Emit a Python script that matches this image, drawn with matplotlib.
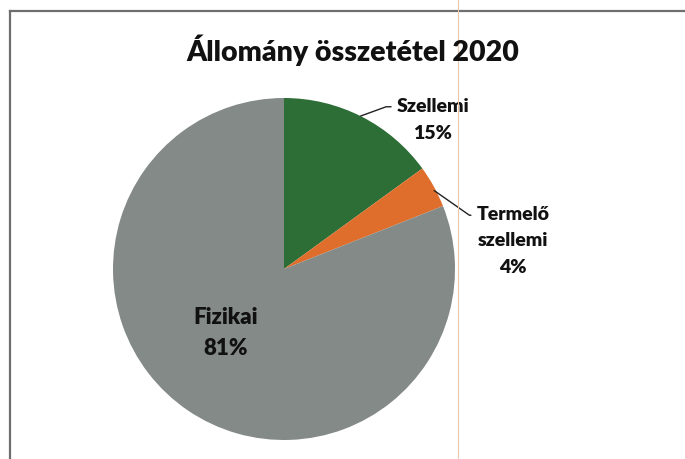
import matplotlib
matplotlib.use("Agg")
import matplotlib.pyplot as plt
from matplotlib.lines import Line2D

# Állomány összetétel 2020
categories = ["Szellemi", "Termelő\nszellemi", "Fizikai"]
shares = [15, 4, 81]
colors = ["#2c6e36", "#df6e2c", "#838a87"]

plt.rcParams["font.family"] = ["Lato", "DejaVu Sans"]

fig = plt.figure(figsize=(6.85, 4.6), dpi=100)
fig.set_facecolor("white")

# frame of the scanned chart (top and left edges only are visible)
fig.add_artist(Line2D([10 / 685, 10 / 685], [0, 1 - 12 / 460], color="#6e6e6e", lw=1.6))
fig.add_artist(Line2D([10 / 685, 1], [1 - 12 / 460, 1 - 12 / 460], color="#6e6e6e", lw=1.6))
# faint scan line
fig.add_artist(Line2D([458 / 685, 458 / 685], [0, 1], color="#e8c9b0", lw=0.8))

fig.text(353 / 685, 1 - 50 / 460, "Állomány összetétel 2020", ha="center", va="center",
         fontsize=20.5, fontweight="heavy", color="#111111")

ax = fig.add_axes([(284 - 171) / 685, (460 - 270 - 171) / 460, 342 / 685, 342 / 460])
wedges, _ = ax.pie(shares, colors=colors, startangle=90, counterclock=False,
                   radius=1.0, wedgeprops=dict(linewidth=0))
ax.set_xlim(-1, 1)
ax.set_ylim(-1, 1)
ax.axis("off")

lab = [f"{c}\n{s}%" for c, s in zip(categories, shares)]
txt = dict(ha="center", va="center", fontsize=14, fontweight="heavy", color="#111111",
           linespacing=1.7)

# Szellemi
ax.annotate(lab[0], xy=(0.433, 0.889), xytext=(0.871, 0.877), annotation_clip=False,
            arrowprops=dict(arrowstyle="-", color="#222222", lw=1.0,
                            connectionstyle="angle,angleA=0,angleB=20,rad=0",
                            relpos=(0.0, 0.78)), **txt)
# Termelő szellemi
ax.annotate(lab[1], xy=(0.865, 0.468), xytext=(1.339, 0.170), annotation_clip=False,
            arrowprops=dict(arrowstyle="-", color="#222222", lw=1.0,
                            connectionstyle="angle,angleA=0,angleB=-35,rad=0",
                            relpos=(0.0, 0.85)), **txt)
# Fizikai
txt_big = dict(txt, fontsize=16, linespacing=1.6)
ax.text(-0.339, -0.368, lab[2], **txt_big)

fig.savefig("out.png", dpi=100, facecolor="white")
